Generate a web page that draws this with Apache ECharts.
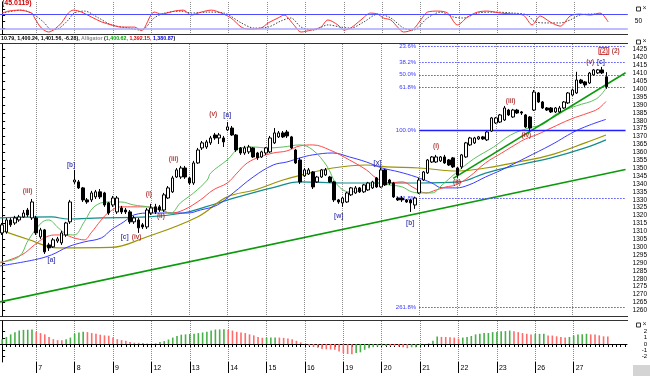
<!DOCTYPE html>
<html><head><meta charset="utf-8">
<script src="https://cdn.jsdelivr.net/npm/echarts@6/dist/echarts.min.js"></script>
<style>html,body{margin:0;padding:0;background:#fff}#c{width:650px;height:376px}</style>
</head><body><div id="c"></div>
<script>
// ---------- data ----------
const dayLabels = ['7','8','9','12','13','14','15','16','19','20','21','22','23','26','27'];
const dayStarts = [8,17,26,35,44,53,62,71,80,89,98,107,116,125,134];
const NCAT = 147;
const priceTicks = [1260,1265,1270,1275,1280,1285,1290,1295,1300,1305,1310,1315,1320,1325,1330,1335,1340,1345,1350,1355,1360,1365,1370,1375,1380,1385,1390,1395,1400,1405,1410,1415,1420,1425];
const aoTicks = [-2,-1,0,1,2];
const oscTicks = [0,25,50,75,100];
const oscLabelTicks = [50];
const oscLevels = [80,20];

// candles: [open, close, low, high]
const candles = [
[1309.0,1314.1,1307.7,1315.3],[1309.6,1317.2,1308.5,1318.5],[1317.2,1314.1,1312.8,1318.5],[1315.3,1318.5,1314.1,1319.8],
[1317.2,1319.1,1316.0,1320.4],[1319.1,1321.6,1318.5,1323.5],[1323.5,1320.4,1319.1,1324.8],[1318.5,1328.6,1317.2,1330.5],
[1318.5,1309.0,1307.7,1319.8],[1306.5,1310.9,1305.2,1312.2],[1310.9,1297.0,1295.7,1311.5],[1301.4,1299.5,1297.6,1302.7],
[1300.2,1304.6,1299.5,1305.8],[1303.9,1305.2,1302.7,1306.5],[1302.7,1309.0,1301.4,1310.3],[1307.7,1315.3,1306.5,1316.0],
[1316.0,1328.6,1314.7,1329.9],[1341.3,1342.5,1340.0,1348.9],[1341.3,1337.5,1336.8,1342.5],[1337.5,1329.9,1328.6,1338.1],
[1329.9,1328.6,1327.4,1331.1],[1329.9,1334.3,1328.6,1335.6],[1331.8,1335.0,1330.5,1336.2],[1335.0,1331.8,1330.5,1336.8],
[1334.3,1326.7,1325.5,1335.0],[1328.0,1321.6,1320.4,1328.6],[1326.7,1331.1,1325.5,1332.4],[1322.3,1331.1,1321.0,1332.4],
[1324.8,1322.3,1321.0,1326.1],[1323.5,1322.3,1321.0,1324.8],[1322.3,1316.0,1314.7,1323.5],[1316.0,1318.5,1314.7,1319.8],
[1317.2,1312.2,1309.0,1318.5],[1314.1,1312.8,1311.5,1315.3],[1312.8,1323.5,1311.5,1324.8],[1321.6,1324.8,1320.4,1327.4],
[1325.5,1322.3,1321.0,1327.4],[1325.5,1323.5,1322.3,1326.7],[1323.5,1333.1,1322.3,1334.3],[1331.1,1337.5,1330.5,1338.7],
[1335.0,1343.8,1334.3,1345.1],[1344.4,1348.9,1343.8,1350.1],[1344.4,1350.1,1343.2,1351.4],[1350.1,1344.4,1343.2,1351.4],
[1343.8,1340.6,1339.4,1344.4],[1340.6,1353.3,1339.4,1354.6],[1353.3,1361.5,1352.7,1362.8],[1362.8,1366.0,1361.5,1367.2],
[1363.4,1366.6,1362.2,1367.9],[1366.0,1369.1,1364.7,1370.4],[1371.0,1369.1,1367.9,1372.3],[1369.1,1371.0,1365.3,1372.3],
[1369.1,1366.6,1363.4,1370.4],[1374.2,1376.1,1373.5,1379.2],[1375.4,1371.0,1370.4,1376.7],[1371.0,1361.5,1360.3,1371.6],
[1362.8,1359.6,1358.4,1363.4],[1359.6,1362.8,1358.4,1364.1],[1360.3,1363.4,1359.0,1364.7],[1362.8,1357.1,1356.5,1363.4],
[1359.6,1356.5,1355.2,1360.3],[1357.1,1360.3,1356.5,1361.0],[1359.6,1362.8,1358.4,1363.4],[1360.3,1369.1,1359.6,1370.4],
[1366.0,1372.3,1365.3,1375.4],[1369.8,1372.3,1369.1,1373.5],[1372.3,1369.8,1369.1,1373.5],[1372.9,1370.4,1369.1,1374.2],
[1369.8,1362.8,1362.2,1370.4],[1361.5,1353.3,1352.7,1362.2],[1355.2,1341.3,1340.0,1356.5],[1345.1,1348.9,1344.4,1350.1],
[1346.3,1348.9,1345.7,1350.1],[1347.6,1338.1,1336.8,1348.2],[1341.3,1344.4,1340.6,1345.1],[1344.4,1348.9,1343.8,1349.5],
[1345.7,1348.9,1345.1,1350.1],[1344.4,1341.3,1340.6,1345.1],[1341.3,1329.9,1328.6,1342.0],[1329.9,1328.6,1327.4,1330.5],
[1328.0,1331.1,1325.5,1331.8],[1328.6,1334.3,1328.0,1335.0],[1333.1,1337.5,1332.4,1338.1],[1334.3,1337.5,1333.7,1338.7],
[1337.5,1335.0,1334.3,1338.1],[1335.0,1339.4,1334.3,1340.0],[1336.2,1340.6,1335.6,1341.3],[1337.5,1341.3,1336.8,1342.0],
[1343.8,1338.1,1337.5,1344.4],[1338.1,1348.9,1337.5,1350.1],[1348.9,1339.4,1338.7,1349.5],[1342.5,1340.6,1339.4,1343.2],
[1340.6,1331.8,1331.1,1341.3],[1331.1,1329.9,1329.2,1331.8],[1331.1,1329.9,1328.6,1332.4],[1329.9,1328.6,1328.0,1330.5],
[1329.9,1328.0,1322.3,1330.5],[1326.7,1331.1,1324.2,1331.8],[1334.3,1342.5,1333.7,1343.8],[1342.5,1347.6,1341.9,1348.2],
[1347.0,1355.2,1346.3,1355.8],[1353.9,1357.1,1353.3,1357.7],[1353.9,1357.1,1353.3,1358.4],[1354.6,1357.1,1353.9,1357.7],
[1357.1,1353.3,1352.7,1358.4],[1355.2,1352.0,1351.4,1355.8],[1356.5,1350.8,1350.1,1357.1],[1350.1,1345.7,1343.8,1350.8],
[1350.8,1358.4,1349.5,1359.0],[1357.1,1366.0,1356.5,1366.6],[1364.7,1369.1,1364.1,1369.8],[1366.0,1369.1,1365.3,1369.8],
[1368.5,1369.8,1367.9,1370.4],[1369.8,1368.5,1367.9,1370.4],[1367.9,1372.9,1367.2,1373.5],[1373.5,1381.8,1372.9,1382.4],
[1378.6,1381.8,1378.0,1382.4],[1379.2,1383.7,1378.6,1384.3],[1380.5,1388.1,1379.9,1389.4],[1386.8,1383.7,1383.0,1387.5],
[1382.4,1386.8,1381.8,1387.5],[1386.8,1384.9,1384.3,1387.5],[1385.6,1384.9,1383.7,1386.2],[1383.7,1376.1,1375.4,1384.3],
[1382.4,1375.4,1373.5,1383.0],[1386.8,1398.2,1386.2,1399.5],[1397.6,1391.9,1391.3,1398.2],[1391.9,1388.1,1387.5,1392.5],
[1388.1,1386.8,1386.2,1388.7],[1388.1,1385.6,1384.9,1388.7],[1385.6,1388.1,1384.9,1388.7],[1385.6,1388.1,1384.9,1389.4],
[1388.1,1391.9,1387.5,1392.5],[1391.3,1397.6,1390.6,1398.2],[1396.3,1399.5,1395.7,1400.1],[1397.6,1405.8,1397.0,1411.0],
[1405.8,1403.9,1403.3,1406.5],[1404.6,1402.7,1401.4,1405.2],[1403.9,1410.2,1403.3,1410.9],[1409.0,1412.2,1408.4,1412.8],
[1410.3,1412.2,1409.6,1412.8],[1412.2,1410.3,1409.6,1414.1],[1407.8,1401.56,1400.24,1410.79]
];

// indicator lines: [barIndex, value]
const lipsGreen = [[-0.5,1290.6],[3.9,1293.8],[6.2,1304.6],[9.2,1315.3],[10.9,1317.2],[13.2,1312.2],[15.1,1308.4],[16.9,1307.7],[19.3,1316.0],[21.6,1325.5],[24.9,1328.6],[27.9,1328.6],[30.9,1326.7],[34.2,1325.5],[37.3,1323.5],[39.6,1321.6],[41.9,1328.0],[45.0,1334.3],[48.2,1342.5],[49.0,1346.9],[52.9,1355.2],[56.0,1362.8],[59.0,1363.4],[62.3,1362.8],[66.0,1363.4],[70.0,1364.7],[73.0,1361.5],[76.3,1351.4],[78.6,1340.0],[81.6,1335.0],[84.7,1336.2],[88.0,1340.6],[91.0,1339.4],[94.0,1338.1],[96.3,1335.0],[98.7,1334.3],[101.0,1334.3],[103.4,1339.4],[106.6,1346.9],[110.8,1355.8],[115.5,1363.4],[119.5,1371.0],[123.7,1375.4],[127.2,1377.9],[130.2,1384.3],[134.9,1389.4],[139.6,1393.8],[141.9,1400.6]];
const teethRed = [[-0.5,1290.0],[4.6,1295.1],[7.6,1301.4],[9.9,1305.8],[12.3,1307.7],[14.6,1307.7],[16.9,1305.8],[19.3,1304.6],[20.9,1309.0],[23.3,1317.2],[24.9,1321.6],[27.9,1325.5],[31.0,1325.5],[34.2,1325.5],[37.3,1323.5],[39.6,1321.6],[42.6,1323.5],[46.6,1329.9],[49.6,1336.2],[52.9,1340.6],[55.2,1346.9],[57.6,1353.3],[60.6,1357.1],[63.7,1359.6],[66.9,1360.9],[70.0,1364.1],[73.0,1364.7],[77.0,1361.5],[81.6,1355.2],[85.6,1348.9],[87.9,1343.8],[91.0,1340.6],[94.0,1341.3],[96.8,1337.5],[99.6,1334.3],[102.0,1336.2],[104.3,1338.1],[106.6,1339.4],[109.7,1344.4],[113.6,1353.3],[117.4,1359.6],[121.3,1366.0],[123.0,1368.5],[126.0,1371.6],[129.0,1375.4],[133.7,1381.1],[137.7,1384.9],[140.0,1387.5],[141.9,1392.2]];
const jawBlue = [[-0.5,1288.1],[7.6,1292.0],[11.6,1295.1],[15.5,1300.2],[19.3,1303.3],[23.3,1305.8],[25.6,1310.9],[28.6,1316.0],[31.0,1320.4],[35.0,1321.6],[38.9,1321.6],[43.6,1321.6],[46.6,1323.5],[50.6,1326.7],[54.3,1334.3],[59.0,1344.4],[63.7,1352.0],[66.9,1353.9],[70.0,1356.5],[73.0,1358.4],[77.7,1359.6],[81.6,1357.1],[85.6,1353.9],[89.3,1350.1],[93.3,1347.6],[97.3,1344.4],[101.0,1340.6],[103.4,1337.5],[106.6,1337.5],[109.7,1339.4],[113.6,1344.4],[117.4,1348.9],[123.0,1356.5],[129.0,1364.7],[135.3,1374.2],[141.9,1380.9]];
const maOlive = [[-0.5,1310.9],[6.0,1305.0],[13.2,1299.5],[25.6,1299.8],[33.3,1305.8],[45.9,1319.1],[52.9,1331.8],[59.4,1336.2],[66.0,1342.5],[70.4,1345.7],[77.7,1350.1],[85.6,1352.0],[90.3,1350.8],[98.0,1350.1],[107.3,1348.2],[113.6,1350.1],[121.3,1353.9],[129.0,1358.4],[137.0,1366.0],[141.9,1371.0]];
const maTeal = [[-0.5,1318.5],[11.6,1319.1],[15.5,1317.8],[23.3,1318.5],[34.2,1319.1],[42.6,1321.6],[47.8,1325.5],[55.5,1331.8],[63.4,1337.5],[70.0,1341.3],[80.0,1340.6],[89.3,1340.6],[98.0,1340.6],[107.3,1341.3],[113.6,1346.9],[121.3,1352.0],[129.0,1356.5],[137.0,1362.8],[141.9,1367.9]];

// trend lines: [[x0,y0],[x1,y1]]
const trendLow = [[-0.5,1265.3],[146.5,1349.1]];
const trendHigh = [[106.0,1343.5],[146.5,1410.4]];

// fibonacci levels
const fibLabels = ['23.6%','38.2%','50.0%','61.8%','100.0%','161.8%','261.8%'];
const fibValues = [1427.3,1417.2,1409.1,1401.0,1374.2,1331.2,1261.7];
const fibStart = 98;

// stochastic oscillator
const stochK = [[0,85],[1.5,93],[3.9,97],[6.9,85],[7.6,65],[9.2,24],[10.9,8],[12.3,20],[13.9,45],[15.5,85],[16.7,97],[18.6,89],[20.9,69],[23.3,49],[25.6,37],[27.9,28],[31,28],[32.6,14],[35.6,89],[37.3,81],[40.3,93],[42.4,97],[44.3,77],[46.6,89],[49,97],[51.3,85],[53.6,65],[56,28],[57.6,20],[60.6,24],[62.3,45],[64.6,65],[66,77],[68.3,37],[70,8],[72.3,16],[74.6,28],[76.3,57],[78.6,37],[80,16],[81.6,24],[84,57],[86.3,85],[87.9,81],[89.3,65],[91,57],[92.6,28],[94,8],[96.3,20],[98,57],[99.6,89],[102,93],[104.3,85],[106.6,37],[109,69],[111.3,89],[113.6,93],[116.7,85],[119.7,81],[122,77],[124.1,37],[126,73],[128.3,49],[130.7,32],[133,73],[135.3,81],[137.7,77],[140,85],[141.9,49]];
const stochD = [[0,85],[4.6,97],[7.6,77],[9.9,45],[11.6,16],[13.4,24],[15.5,57],[16.9,85],[19.3,93],[22.6,65],[25.6,37],[29.6,24],[32.6,16],[35.6,65],[38,85],[41.9,93],[44.3,85],[48.2,89],[52,85],[56,45],[59,24],[62.3,28],[65.3,53],[67.6,65],[70,28],[73,16],[76.3,37],[79.3,28],[81.6,24],[84.7,49],[88,81],[91,65],[94,24],[96.3,16],[99.6,65],[102.7,89],[105.7,69],[108,65],[111.3,85],[115,89],[119.7,85],[123,77],[124.8,49],[127.6,45],[130.7,45],[133,57],[135.3,77],[138.4,81],[140.7,81]];

// awesome oscillator histogram
const aoValues = [0.77,1.13,1.54,1.90,2.15,2.26,2.28,2.31,1.95,1.75,1.54,1.13,0.77,0.62,0.60,0.77,1.03,1.64,1.85,1.95,
1.90,1.75,1.64,1.49,1.38,1.33,1.03,0.77,0.62,0.51,0.31,0.21,0.20,0.18,0.10,0.03,0.10,0.31,0.46,0.72,
1.03,1.28,1.49,1.54,1.60,1.64,1.75,1.85,1.95,2.15,2.31,2.33,2.35,2.30,2.15,1.95,1.85,1.75,1.54,1.38,
1.13,1.00,1.02,1.04,1.06,1.03,0.98,0.87,0.77,0.51,0.26,-0.05,-0.31,-0.45,-0.60,-0.80,-0.85,-0.88,-0.92,-1.18,
-1.44,-1.59,-1.62,-1.44,-1.33,-0.92,-0.67,-0.51,-0.41,-0.31,-0.30,-0.31,-0.33,-0.41,-0.51,-0.67,-0.51,-0.50,-0.15,-0.05,
0.10,0.51,1.20,1.13,1.12,1.10,1.03,0.87,1.03,1.13,1.28,1.54,1.64,1.75,1.76,1.90,1.92,2.05,2.07,2.15,
2.05,1.90,1.75,1.64,1.54,1.60,1.62,1.64,1.38,1.35,1.23,1.13,1.03,1.13,1.38,1.54,1.56,1.64,1.54,1.52,
1.38,1.23,1.20];

// wave annotations: [barIndex, price, text, kind]
const waveLabels = [
[6.0,1335.6,'(iii)','r'],[16.2,1351.9,'[b]','b'],[11.6,1291.9,'[a]','b'],[28.8,1306.3,'[c]','b'],[31.6,1306.3,'(iv)','r'],
[34.5,1333.7,'(i)','r'],[37.3,1319.8,'(ii)','r'],[40.3,1355.8,'(iii)','r'],[49.6,1384.3,'(v)','r'],[52.9,1383.7,'[a]','b'],
[79.1,1319.8,'[w]','b'],[88.2,1353.3,'[x]','b'],[95.9,1315.3,'[b]','b'],[102.0,1364.1,'(i)','r'],[106.9,1341.3,'(ii)','r'],
[119.5,1392.5,'(iii)','r'],[123.2,1371.0,'(iv)','r'],[138.2,1417.2,'(v)','r'],[140.7,1417.2,'[c]','b'],
[141.4,1424.2,'(2)','box'],[144.2,1424.2,'(2)','r']
];

// ---------- chart ----------
const categories = [];
for (let i = 0; i < NCAT; i++) categories.push('b' + i);
const XMIN = -0.5, XMAX = NCAT - 0.5;
const GL = -1.7, GW = 629.5;
const PMAX = 1428.6, PMIN = 1256.4;
const OSC_MIN = 0, OSC_MAX = 130, AO_MIN = -2.88, AO_MAX = 3.68;
const FONT = 'Arial, "Liberation Sans", sans-serif';

const isDayStart = (i) => dayStarts.includes(i);
const daySplit = {show: true, interval: isDayStart, alignWithLabel: true,
  lineStyle: {color: '#8c8c8c', width: 1, type: [1, 1]}};

function hiddenCategoryAxis(gridIndex) {
  return {type: 'category', gridIndex: gridIndex, data: categories, show: true,
    axisLine: {show: false}, axisTick: {show: false, alignWithLabel: true}, axisLabel: {show: false},
    splitLine: daySplit};
}

const labelColor = {r: '#a01010', b: '#1a1aa0', box: '#c01010'};

const option = {
  animation: false,
  backgroundColor: '#fff',
  textStyle: {fontFamily: FONT},
  grid: [
    {left: GL, width: GW, top: 2, height: 32},
    {left: GL, width: GW, top: 44, height: 272},
    {left: GL, width: GW, top: 321, height: 41}
  ],
  xAxis: [
    hiddenCategoryAxis(0),
    {type: 'value', gridIndex: 0, min: XMIN, max: XMAX, show: false},
    hiddenCategoryAxis(1),
    {type: 'value', gridIndex: 1, min: XMIN, max: XMAX, show: false},
    {type: 'category', gridIndex: 2, data: categories, position: 'bottom',
      axisLine: {show: true, lineStyle: {color: '#000', width: 1}},
      axisTick: {show: true, alignWithLabel: true, interval: 0, length: 3, lineStyle: {color: '#000'}},
      axisLabel: {show: false}, splitLine: daySplit},
    {type: 'value', gridIndex: 2, min: XMIN, max: XMAX, show: false},
    {type: 'category', gridIndex: 2, data: categories, position: 'bottom',
      axisLine: {show: false},
      axisTick: {show: true, alignWithLabel: true, interval: isDayStart, length: 11, lineStyle: {color: '#000'}},
      axisLabel: {show: true, interval: isDayStart,
        formatter: (v, i) => { const d = dayStarts.indexOf(i); return d >= 0 ? dayLabels[d] : ''; },
        align: 'left', margin: 3, padding: [0, 0, 0, 2], fontSize: 7, color: '#000', fontFamily: FONT},
      splitLine: {show: false}}
  ],
  yAxis: [
    {type: 'value', gridIndex: 0, min: OSC_MIN, max: OSC_MAX, position: 'right', splitLine: {show: false},
      axisLine: {show: true, lineStyle: {color: '#000'}},
      axisTick: {show: true, length: 3, customValues: oscTicks, lineStyle: {color: '#000'}},
      axisLabel: {customValues: oscLabelTicks, formatter: (v) => String(v), fontSize: 6.5, margin: 7, color: '#000', fontFamily: FONT}},
    {type: 'value', gridIndex: 1, min: PMIN, max: PMAX, position: 'right', splitLine: {show: false},
      axisLine: {show: true, lineStyle: {color: '#000'}},
      axisTick: {show: true, length: 3, customValues: priceTicks, lineStyle: {color: '#000'}},
      axisLabel: {customValues: priceTicks, formatter: (v) => String(v), fontSize: 6.5, margin: 7, color: '#000', fontFamily: FONT, hideOverlap: false}},
    {type: 'value', gridIndex: 2, min: AO_MIN, max: AO_MAX, position: 'right', splitLine: {show: false},
      axisLine: {show: true, lineStyle: {color: '#000'}},
      axisTick: {show: true, length: 3, customValues: aoTicks, lineStyle: {color: '#000'}},
      axisLabel: {customValues: aoTicks, formatter: (v) => String(v), fontSize: 6, lineHeight: 6, margin: 20, align: 'right',
        color: '#000', fontFamily: FONT, hideOverlap: false, showMinLabel: true, showMaxLabel: true}}
  ],
  series: [
    // ---- oscillator panel ----
    {type: 'line', xAxisIndex: 1, yAxisIndex: 0, data: stochD, symbol: 'none', smooth: 0.3,
      lineStyle: {color: '#444', width: 1, type: [1.5, 1.5]}, z: 3},
    {type: 'line', xAxisIndex: 1, yAxisIndex: 0, data: stochK, symbol: 'none', smooth: 0.3,
      lineStyle: {color: '#ff3030', width: 1}, z: 4,
      markLine: {silent: true, symbol: 'none', label: {show: false},
        data: [{yAxis: oscLevels[0], lineStyle: {color: '#4a4aff', width: 1.2, type: 'solid'}},
               {yAxis: oscLevels[1], lineStyle: {color: '#a8a8ff', width: 1.5, type: 'solid'}}]}},
    // ---- main panel ----
    {type: 'line', xAxisIndex: 3, yAxisIndex: 1, data: trendLow, symbol: 'none',
      lineStyle: {color: '#0a9a0a', width: 1.6}, z: 2},
    {type: 'line', xAxisIndex: 3, yAxisIndex: 1, data: [], symbol: 'none', z: 2,
      markLine: {silent: true, symbol: 'none',
        label: {show: true, position: 'start', formatter: '{b}', fontSize: 6, color: '#3a3aff', distance: 3, fontFamily: FONT},
        data: fibValues.map((v, i) => [
          {coord: [fibStart, v], name: fibLabels[i],
            lineStyle: fibLabels[i] === '100.0%' ? {color: '#2020ff', width: 1.3, type: 'solid'} : {color: '#5050ff', width: 1, type: [1.5, 1.5]}},
          {coord: [XMAX, v]}
        ])}},
    {type: 'line', xAxisIndex: 3, yAxisIndex: 1, data: maTeal, symbol: 'none', smooth: 0.4,
      lineStyle: {color: '#138c8c', width: 1.2}, z: 3},
    {type: 'line', xAxisIndex: 3, yAxisIndex: 1, data: maOlive, symbol: 'none', smooth: 0.4,
      lineStyle: {color: '#9c9400', width: 1.2}, z: 3},
    {type: 'line', xAxisIndex: 3, yAxisIndex: 1, data: jawBlue, symbol: 'none', smooth: 0.4,
      lineStyle: {color: '#3b3bff', width: 1}, z: 3},
    {type: 'line', xAxisIndex: 3, yAxisIndex: 1, data: teethRed, symbol: 'none', smooth: 0.4,
      lineStyle: {color: '#ff4848', width: 1}, z: 3},
    {type: 'line', xAxisIndex: 3, yAxisIndex: 1, data: lipsGreen, symbol: 'none', smooth: 0.4,
      lineStyle: {color: '#5cc05c', width: 1}, z: 3},
    {type: 'line', xAxisIndex: 3, yAxisIndex: 1, data: trendHigh, symbol: 'none',
      lineStyle: {color: '#0a9a0a', width: 1.6}, z: 4},
    {type: 'candlestick', xAxisIndex: 2, yAxisIndex: 1, data: candles, barWidth: 3, z: 5,
      itemStyle: {color: '#ffffff', color0: '#000000', borderColor: '#000000', borderColor0: '#000000', borderWidth: 1}},
    {type: 'scatter', xAxisIndex: 3, yAxisIndex: 1, symbolSize: 1, z: 7,
      itemStyle: {color: 'rgba(0,0,0,0)'},
      data: waveLabels.map(w => ({
        value: [w[0], w[1]],
        label: {show: true, position: 'inside', formatter: w[2], color: labelColor[w[3]],
          fontSize: 6.5, fontWeight: 'bold', fontFamily: FONT,
          borderColor: w[3] === 'box' ? '#c01010' : 'transparent', borderWidth: w[3] === 'box' ? 1 : 0, padding: [0, 1, 0, 1]}
      }))},
    // ---- AO panel ----
    {type: 'bar', xAxisIndex: 4, yAxisIndex: 2, data: aoValues, barWidth: 1.6, z: 2,
      itemStyle: {color: (p) => (p.dataIndex === 0 || aoValues[p.dataIndex] >= aoValues[p.dataIndex - 1]) ? '#48b048' : '#ff6a6a'}}
  ],
  graphic: [
    {type: 'text', left: 2, top: 0, style: {text: '(45.0119)', fill: '#d00000', font: 'bold 7px Arial'}},
    {type: 'text', left: 1, top: 36, style: {
      text: '{k|10.79, 1,400.24, 1,401.56, -6.28),} {a|Alligator} {k|(}{g|1,400.62,} {r|1,392.15,} {b|1,380.87}{k|)}',
      font: 'bold 5.3px Arial',
      rich: {k: {fill: '#000', font: 'bold 5.3px Arial'}, a: {fill: '#888', font: 'bold 5.3px Arial'},
             g: {fill: '#00a000', font: 'bold 5.3px Arial'}, r: {fill: '#e00000', font: 'bold 5.3px Arial'},
             b: {fill: '#0000e0', font: 'bold 5.3px Arial'}}}},
    {type: 'line', shape: {x1: 0, y1: 34.5, x2: 628, y2: 34.5}, style: {stroke: '#333', lineWidth: 1}},
    {type: 'line', shape: {x1: 0, y1: 43.5, x2: 628, y2: 43.5}, style: {stroke: '#333', lineWidth: 1}},
    {type: 'line', shape: {x1: 0, y1: 316.5, x2: 628, y2: 316.5}, style: {stroke: '#333', lineWidth: 1}},
    {type: 'line', shape: {x1: 0, y1: 320.5, x2: 628, y2: 320.5}, style: {stroke: '#333', lineWidth: 1}},
    {type: 'rect', shape: {x: 633, y: 365, width: 17, height: 11}, style: {fill: '#d4d4d4'}},
    {type: 'group', left: 636, top: 5, children: [
      {type: 'rect', shape: {x: 0, y: 0, width: 4, height: 4}, style: {fill: '#fff', stroke: '#333', lineWidth: 1}},
      {type: 'text', x: 6, y: -2, style: {text: '×', font: '7px Arial', fill: '#333'}}]},
    {type: 'group', left: 636, top: 38, children: [
      {type: 'rect', shape: {x: 0, y: 0, width: 4, height: 4}, style: {fill: '#fff', stroke: '#333', lineWidth: 1}},
      {type: 'text', x: 6, y: -2, style: {text: '×', font: '7px Arial', fill: '#333'}}]},
    {type: 'group', left: 636, top: 321, children: [
      {type: 'rect', shape: {x: 0, y: 0, width: 4, height: 4}, style: {fill: '#fff', stroke: '#333', lineWidth: 1}},
      {type: 'text', x: 6, y: -2, style: {text: '×', font: '7px Arial', fill: '#333'}}]}
  ]
};

const chart = echarts.init(document.getElementById('c'), null, {renderer: 'canvas'});
chart.setOption(option);
</script>
</body></html>
